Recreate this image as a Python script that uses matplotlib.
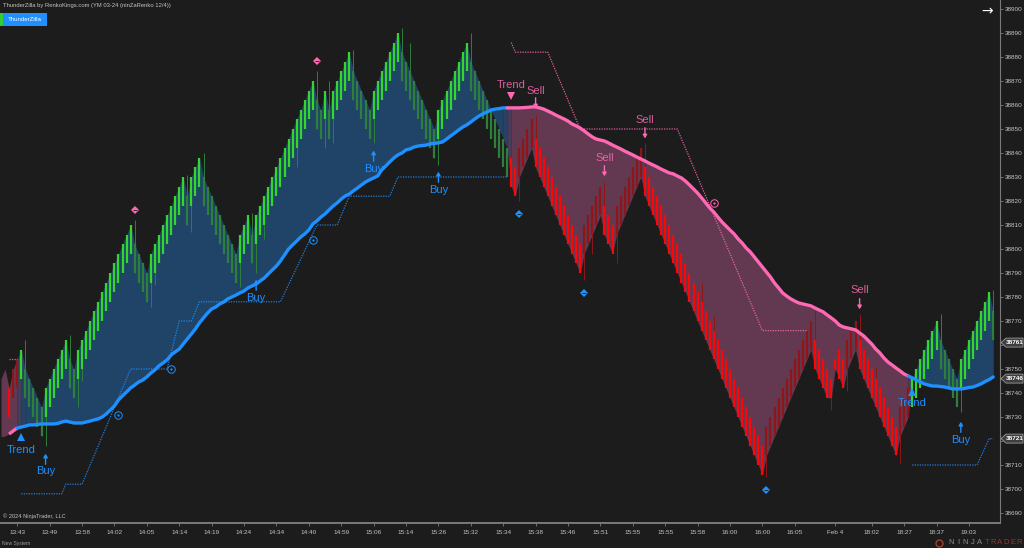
import numpy as np
import matplotlib
matplotlib.use('Agg')
import matplotlib.pyplot as plt
from matplotlib.lines import Line2D
from matplotlib.patches import Polygon, Rectangle

plt.rcParams['font.family'] = ['Liberation Sans', 'DejaVu Sans']

# Top of each renko body, one value per bar
bar_top = [
    38746, 38750, 38742, 38750, 38754, 38758, 38750, 38746, 38742, 38738,
    38734, 38742, 38746, 38750, 38754, 38758, 38762, 38754, 38750, 38758,
    38762, 38766, 38770, 38774, 38778, 38782, 38786, 38790, 38794, 38798,
    38802, 38806, 38810, 38802, 38798, 38794, 38790, 38798, 38802, 38806,
    38810, 38814, 38818, 38822, 38826, 38830, 38822, 38830, 38834, 38838,
    38830, 38826, 38822, 38818, 38814, 38810, 38806, 38802, 38798, 38806,
    38810, 38814, 38806, 38814, 38818, 38822, 38826, 38830, 38834, 38838,
    38842, 38846, 38850, 38854, 38858, 38862, 38866, 38870, 38862, 38858,
    38866, 38858, 38866, 38870, 38874, 38878, 38882, 38874, 38870, 38866,
    38862, 38858, 38866, 38870, 38874, 38878, 38882, 38886, 38890, 38882,
    38878, 38874, 38870, 38866, 38862, 38858, 38854, 38850, 38858, 38862,
    38866, 38870, 38874, 38878, 38882, 38886, 38878, 38874, 38870, 38866,
    38862, 38858, 38854, 38850, 38846, 38842, 38838, 38834, 38842, 38846,
    38850, 38854, 38846, 38842, 38838, 38834, 38830, 38826, 38822, 38818,
    38814, 38810, 38806, 38802, 38810, 38814, 38818, 38822, 38826, 38818,
    38814, 38810, 38818, 38822, 38826, 38830, 38834, 38838, 38842, 38834,
    38830, 38826, 38822, 38818, 38814, 38810, 38806, 38802, 38798, 38794,
    38790, 38786, 38782, 38778, 38774, 38770, 38766, 38762, 38758, 38754,
    38750, 38746, 38742, 38738, 38734, 38730, 38726, 38722, 38718, 38726,
    38730, 38734, 38738, 38742, 38746, 38750, 38754, 38758, 38762, 38766,
    38770, 38762, 38758, 38754, 38750, 38746, 38754, 38758, 38754, 38762,
    38766, 38770, 38762, 38758, 38754, 38750, 38746, 38742, 38738, 38734,
    38730, 38726, 38734, 38738, 38742, 38746, 38750, 38754, 38758, 38762,
    38766, 38770, 38762, 38758, 38754, 38750, 38746, 38754, 38758, 38762,
    38766, 38770, 38774, 38778, 38782, 38774,
]

# Trend line, one value per bar
trend_line = [
    38721.7, 38722.1, 38722.9, 38724.2, 38725.4, 38725.8, 38726.2, 38726.7, 38726.7, 38726.9,
    38727.1, 38727.1, 38727.1, 38727.1, 38727.3, 38727.9, 38728.3, 38727.9, 38727.5, 38727.5,
    38727.5, 38727.9, 38728.3, 38728.8, 38729.2, 38730.0, 38731.3, 38732.9, 38734.6, 38737.1,
    38738.8, 38740.4, 38742.1, 38743.3, 38744.6, 38745.4, 38746.7, 38748.3, 38749.6, 38751.3,
    38752.5, 38753.8, 38755.8, 38757.1, 38758.3, 38760.4, 38762.5, 38764.6, 38766.7, 38769.2,
    38771.3, 38773.3, 38775.0, 38775.8, 38777.1, 38777.9, 38779.2, 38780.0, 38780.8, 38781.7,
    38782.5, 38783.8, 38784.6, 38785.4, 38786.7, 38787.9, 38789.6, 38791.3, 38792.9, 38795.0,
    38797.5, 38800.0, 38801.7, 38803.3, 38805.0, 38806.3, 38807.9, 38810.4, 38811.7, 38813.3,
    38814.6, 38816.3, 38817.9, 38819.2, 38820.8, 38822.1, 38822.9, 38824.2, 38825.4, 38826.7,
    38827.9, 38828.8, 38829.6, 38830.4, 38832.9, 38834.6, 38836.3, 38837.9, 38839.2, 38840.0,
    38841.3, 38841.7, 38842.5, 38842.9, 38843.1, 38843.3, 38843.8, 38844.0, 38844.2, 38844.6,
    38845.8, 38847.1, 38848.3, 38849.6, 38850.8, 38851.7, 38852.9, 38854.2, 38855.4, 38856.3,
    38857.1, 38857.9, 38858.3, 38858.5, 38858.8, 38858.8, 38858.8, 38858.8, 38858.8, 38858.9,
    38859.0, 38859.2, 38859.2, 38858.8, 38858.3, 38857.5, 38856.7, 38855.8, 38855.0, 38854.2,
    38853.3, 38852.1, 38851.3, 38850.4, 38849.2, 38847.9, 38846.7, 38845.8, 38845.4, 38845.0,
    38844.2, 38843.3, 38842.5, 38841.7, 38840.8, 38840.0, 38839.2, 38838.3, 38837.5, 38836.7,
    38835.8, 38835.0, 38834.2, 38833.3, 38832.5, 38831.7, 38831.3, 38830.4, 38829.6, 38828.3,
    38826.7, 38825.0, 38823.3, 38821.3, 38819.2, 38817.1, 38815.4, 38813.3, 38811.3, 38809.6,
    38807.9, 38806.3, 38804.2, 38802.5, 38800.4, 38798.8, 38796.7, 38794.6, 38792.5, 38790.4,
    38788.3, 38785.8, 38783.8, 38781.7, 38780.4, 38779.2, 38778.3, 38777.5, 38777.1, 38776.7,
    38776.3, 38775.4, 38774.6, 38773.8, 38772.5, 38771.3, 38770.0, 38768.3, 38767.5, 38767.1,
    38766.7, 38766.3, 38765.0, 38763.8, 38762.1, 38760.4, 38758.3, 38756.7, 38754.6, 38752.9,
    38751.7, 38750.4, 38749.2, 38747.9, 38747.1, 38746.3, 38745.4, 38744.6, 38743.8, 38743.3,
    38742.9, 38742.9, 38742.7, 38742.5, 38742.1, 38741.7, 38741.7, 38741.7, 38741.9, 38742.3,
    38742.5, 38743.1, 38743.8, 38744.8, 38745.6, 38746.7,
]

body_size = 12
short_bodies = {205: 8, 206: 4}
forced_down = [206, 207]

# Wick ends: bar -> price
wicks = {
    6: 38762, 10: 38722, 11: 38718, 17: 38764, 19: 38734, 20: 38745, 33: 38812, 36: 38778,
    37: 38776, 38: 38785, 46: 38831, 47: 38807, 50: 38840, 54: 38802, 59: 38784, 62: 38815,
    63: 38790, 65: 38804, 73: 38834, 78: 38874, 80: 38842, 81: 38870, 82: 38844, 87: 38883,
    92: 38844, 99: 38892, 101: 38886, 107: 38838, 108: 38835, 116: 38890, 128: 38820,
    132: 38856, 144: 38787, 146: 38798, 149: 38828, 152: 38794, 159: 38844, 173: 38786,
    176: 38772, 189: 38705, 201: 38774, 205: 38733, 209: 38741, 212: 38773, 216: 38751,
    222: 38711, 232: 38773, 237: 38732, 245: 38783,
}

# Stop lines: (bar, price) corners
stop_up_1 = [(5, 38698), (15, 38698), (16, 38702), (20, 38702), (32, 38750), (41, 38750),
             (44, 38770), (47, 38770), (49, 38778), (69, 38778), (78, 38810), (83, 38810),
             (86, 38822), (96, 38822), (98, 38830), (125, 38830)]
stop_up_2 = [(225, 38710), (241, 38710), (244, 38721), (245, 38721)]
stop_down_1 = [(2, 38754), (4, 38754)]
stop_down_2 = [(126, 38886), (127, 38882), (135, 38882), (143, 38850), (167, 38850),
               (188, 38766), (199, 38766)]

# Signals: bar, arrow price, text price
buy_signals = [(11, 38712.5, 38707.5), (63, 38785, 38779.6), (92, 38838.8, 38833.3),
               (108, 38830, 38824.6), (237, 38725.8, 38720.4)]
sell_signals = [(132, 38860.8, 38865.8), (149, 38832.5, 38838), (159, 38848.3, 38853.8),
                (212, 38777.1, 38783)]
trend_up = [(5, 38721.7, 38716.2), (225, 38740.4, 38735.8)]
trend_down = [(126, 38863.8, 38868.3)]
diamonds_pink = [(33, 38816.2), (78, 38878.3)]
diamonds_blue = [(128, 38814.6), (144, 38781.7), (189, 38699.6)]
circles_blue = [(29, 38730.8), (42, 38750), (77, 38803.8)]
circles_pink = [(176, 38819.2)]

y_ticks = list(range(38690, 38901, 10))
hidden_y_labels = [38760, 38720]
x_tick_bars = [4, 12, 20, 28, 36, 44, 52, 60, 68, 76, 84, 92, 100, 108, 116, 124, 132, 140,
               148, 156, 164, 172, 180, 188, 196, 206, 215, 223, 231, 239]
x_tick_labels = ['13:43', '13:49', '13:58', '14:02', '14:05', '14:14', '14:19', '14:24', '14:34',
                 '14:40', '14:59', '15:06', '15:14', '15:26', '15:32', '15:34', '15:38', '15:46',
                 '15:51', '15:55', '15:55', '15:58', '16:00', '16:00', '16:05', 'Feb 4', '18:02',
                 '18:27', '18:37', '19:03']
price_flags = [(38761, '38761'), (38746, '38746'), (38721, '38721')]

BG = '#1c1c1c'
BLUE = '#1e90ff'
PINK = '#ff69b4'
FILL_BLUE = np.array([0x1f, 0x44, 0x68]) / 255
FILL_PINK = np.array([0x62, 0x39, 0x50]) / 255
GREEN_UP, GREEN_DN = '#32d62f', '#2f7f3c'
RED_DN, RED_UP = '#ff0508', '#8f1518'
AXIS_C = '#7a7a7a'
TEXT_C = '#c4c4c4'
LABEL_SIZE = 8

# Which bars are in the down trend
DOWN_START, DOWN_END = 126, 224

n = len(bar_top)
x = np.arange(n)
top = np.array(bar_top, dtype=float)
line = np.array(trend_line)
sizes = np.full(n, float(body_size))
for k, v in short_bodies.items():
    sizes[k] = v
bottom = top - sizes
up = np.r_[True, np.diff(top) > 0]
up[forced_down] = False
down_trend = (x >= DOWN_START) & (x <= DOWN_END)
early_red = x <= 4

# Band follows the body top in an up trend, the body bottom in a down trend
band = np.where(down_trend, bottom, top)

fig = plt.figure(figsize=(10.24, 5.48), dpi=100, facecolor=BG)
ax = fig.add_axes([0, 25.5 / 548, 1000 / 1024, 522.5 / 548], facecolor=BG)
ax.set_xlim(-0.25, 246.67)
ax.set_ylim(38686.04, 38903.75)

# Shaded area between the band and the trend line, one colour per stretch
ax.fill_between(x[:5], band[:5], line[:5], color=FILL_PINK, lw=0)
ax.fill_between(x[6:125], band[6:125], line[6:125], color=FILL_BLUE, lw=0)
ax.fill_between(x[126:225], band[126:225], line[126:225], color=FILL_PINK, lw=0)
ax.fill_between(x[225:], band[225:], line[225:], color=FILL_BLUE, lw=0)
ax.fill_between(x[224:226], band[224:226], line[224:226], color=(FILL_BLUE + FILL_PINK) / 2, lw=0)
for i, mix in [(4, 0.5), (5, 0.85), (124, 0.2), (125, 0.6)]:
    c = FILL_PINK * (1 - mix) + FILL_BLUE * mix if i < 6 else FILL_BLUE * (1 - mix) + FILL_PINK * mix
    ax.fill_between(x[i:i + 2], band[i:i + 2], line[i:i + 2], color=c, lw=0)

# Renko bars
colors = []
for i in range(n):
    if down_trend[i] or early_red[i]:
        colors.append(RED_UP if up[i] else RED_DN)
    else:
        colors.append(GREEN_UP if up[i] else GREEN_DN)
for i, price in wicks.items():
    if down_trend[i] or early_red[i]:
        wc = RED_UP
    else:
        wc = GREEN_DN
    ax.vlines(i, min(price, bottom[i]), max(price, top[i]), color=wc, lw=0.7)
bodies = ax.vlines(x[2:], bottom[2:], top[2:], colors=colors[2:], lw=1.6, capstyle='butt')
bodies.set_snap(True)

# Stop lines
for pts, c in [(stop_up_1, BLUE), (stop_up_2, BLUE), (stop_down_1, PINK), (stop_down_2, PINK)]:
    sx, sy = zip(*pts)
    ax.plot(sx, sy, color=c, lw=0.9, ls=(0, (1, 1)), alpha=0.85)

# Trend line
ax.plot(x[2:5], line[2:5], color=PINK, lw=2.4, solid_capstyle='butt')
ax.plot(x[4:126], line[4:126], color=BLUE, lw=2.4, solid_capstyle='round')
ax.plot(x[125:225], line[125:225], color=PINK, lw=2.4, solid_capstyle='round')
ax.plot(x[224:], line[224:], color=BLUE, lw=2.4, solid_capstyle='round')

# Signal labels
for bar, arrow_y, text_y in buy_signals:
    ax.annotate('', xy=(bar, arrow_y + 2.2), xytext=(bar, arrow_y - 2.2),
                arrowprops=dict(arrowstyle='-|>,head_width=0.12,head_length=0.2', color=BLUE, lw=1, shrinkA=0, shrinkB=0))
    ax.text(bar, text_y, 'Buy', color=BLUE, fontsize=LABEL_SIZE, ha='center', va='center')
for bar, arrow_y, text_y in sell_signals:
    ax.annotate('', xy=(bar, arrow_y - 2.2), xytext=(bar, arrow_y + 2.2),
                arrowprops=dict(arrowstyle='-|>,head_width=0.12,head_length=0.2', color=PINK, lw=1, shrinkA=0, shrinkB=0))
    ax.text(bar, text_y, 'Sell', color=PINK, fontsize=LABEL_SIZE, ha='center', va='center', alpha=0.85)
for bar, tri_y, text_y in trend_up:
    ax.plot([bar], [tri_y], '^', color=BLUE, ms=6, mew=0)
    ax.text(bar, text_y, 'Trend', color=BLUE, fontsize=LABEL_SIZE, ha='center', va='center')
for bar, tri_y, text_y in trend_down:
    ax.plot([bar], [tri_y], 'v', color=PINK, ms=6, mew=0)
    ax.text(bar, text_y, 'Trend', color=PINK, fontsize=LABEL_SIZE, ha='center', va='center', alpha=0.85)

for pts, c in [(diamonds_pink, PINK), (diamonds_blue, BLUE)]:
    dx, dy = zip(*pts)
    ax.plot(dx, dy, 'D', color=c, ms=4.2, mew=0, ls='none')
    ax.plot(dx, dy, '_', color=BG, ms=3.5, mew=0.6, ls='none')
for pts, c in [(circles_blue, BLUE), (circles_pink, PINK)]:
    cx, cy = zip(*pts)
    ax.plot(cx, cy, 'o', mfc='none', mec=c, ms=5.4, mew=0.7, ls='none')
    ax.plot(cx, cy, 'o', color=c, ms=1.6, mew=0, ls='none')

# Axes
for side in ['left', 'top']:
    ax.spines[side].set_visible(False)
ax.spines['right'].set_color(AXIS_C)
ax.spines['right'].set_linewidth(0.8)
ax.spines['bottom'].set_color(AXIS_C)
ax.spines['bottom'].set_linewidth(1.4)
ax.yaxis.tick_right()
ax.set_yticks(y_ticks)
ax.set_yticklabels(['' if v in hidden_y_labels else str(v) for v in y_ticks])
ax.set_xticks(x_tick_bars)
ax.set_xticklabels(x_tick_labels)
ax.tick_params(axis='y', colors=AXIS_C, labelcolor=TEXT_C, labelsize=4.6, length=2.2, width=0.6, pad=1.5)
ax.tick_params(axis='x', colors=AXIS_C, labelcolor=TEXT_C, labelsize=4.6, length=2.5, width=0.6, pad=3)

# Price flags on the right edge
fig.canvas.draw()
for price, label in price_flags:
    py = ax.transData.transform((0, price))[1]
    pts = [(1001, py), (1006, py + 4.5), (1023, py + 4.5), (1023, py - 4.5), (1006, py - 4.5)]
    fig.add_artist(Polygon(pts, closed=True, transform=None, fc='#3f3f3f', ec='#9a9a9a', lw=0.6))
    fig.text(1014.5 / 1024, py / 548, label, color='white', fontsize=4.6, ha='center', va='center', fontweight='bold')

# Header and footer
fig.text(3 / 1024, 1 - 6 / 548, 'ThunderZilla by RenkoKings.com (YM 03-24 (ninZaRenko 12/4))',
         color=TEXT_C, fontsize=4.2, ha='left', va='center')
fig.add_artist(Rectangle((0, 1 - 26 / 548), 47 / 1024, 13 / 548, transform=fig.transFigure, fc=BLUE, lw=0))
fig.add_artist(Rectangle((0, 1 - 26 / 548), 3 / 1024, 13 / 548, transform=fig.transFigure, fc='#32cd32', lw=0))
fig.text(25 / 1024, 1 - 19.5 / 548, 'ThunderZilla', color='white', fontsize=4.4, ha='center', va='center')
fig.text(987 / 1024, 1 - 11 / 548, '→', color='white', fontsize=10, ha='center', va='center', family='DejaVu Sans')
fig.text(3 / 1024, 1 - 516 / 548, '© 2024 NinjaTrader, LLC', color=TEXT_C, fontsize=4.1, ha='left', va='center')
fig.text(2 / 1024, 1 - 543 / 548, 'New System', color='#9a9a9a', fontsize=3.6, ha='left', va='center')

# Logo, spaced out by hand
for word, start, step, c in [('NINJA', 951, 7.2, '#8e8e8e'), ('TRADER', 987, 6.5, '#8c3a30')]:
    for k, ch in enumerate(word):
        fig.text((start + k * step) / 1024, 1 - 543 / 548, ch, color=c, fontsize=5.5, ha='center', va='center')
fig.add_artist(Line2D([939 / 1024], [1 - 543 / 548], transform=fig.transFigure, marker='o', ms=5,
                      mfc='none', mec='#a04030', mew=1, ls='none'))

fig.savefig('out.png', dpi=100, facecolor=BG)
